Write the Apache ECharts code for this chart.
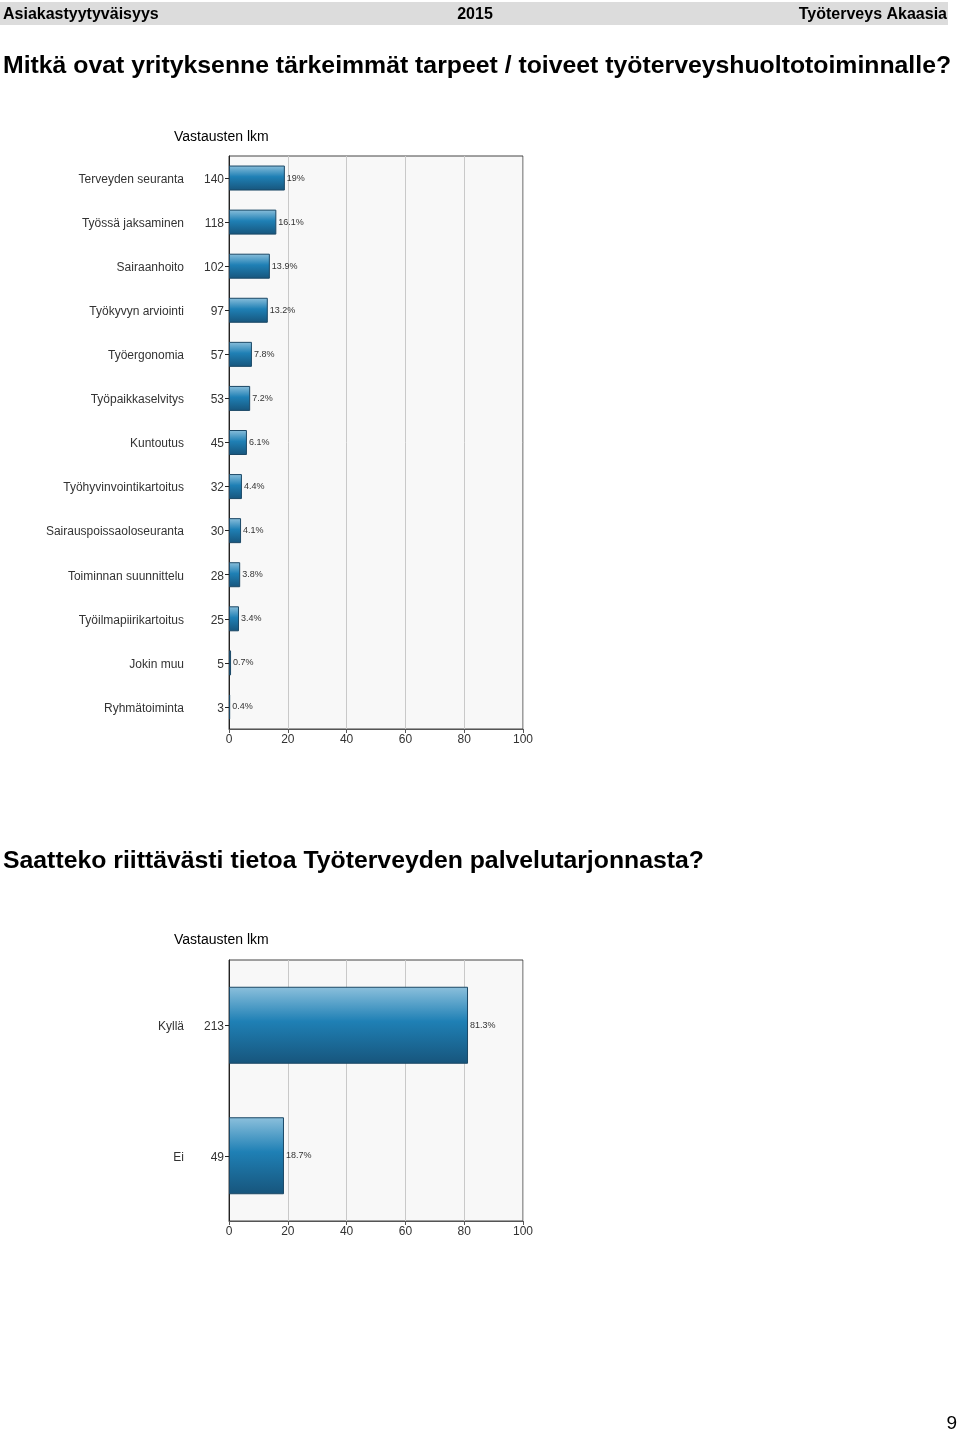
<!DOCTYPE html>
<html><head><meta charset="utf-8">
<script src="https://cdn.jsdelivr.net/npm/echarts@6/dist/echarts.min.js"></script>
<style>html,body{margin:0;padding:0;background:#fff}#c{width:960px;height:1433px}</style>
</head><body><div id="c"></div>
<script>
const categories1 = ["Terveyden seuranta","Työssä jaksaminen","Sairaanhoito","Työkyvyn arviointi","Työergonomia","Työpaikkaselvitys","Kuntoutus","Työhyvinvointikartoitus","Sairauspoissaoloseuranta","Toiminnan suunnittelu","Työilmapiirikartoitus","Jokin muu","Ryhmätoiminta"];
const counts1 = [140,118,102,97,57,53,45,32,30,28,25,5,3];
const percents1 = [19,16.1,13.9,13.2,7.8,7.2,6.1,4.4,4.1,3.8,3.4,0.7,0.4];
const categories2 = ["Kyllä","Ei"];
const counts2 = [213,49];
const percents2 = [81.3,18.7];
const xTicks = [0,20,40,60,80,100];

const FONT = "Liberation Sans, Arial, sans-serif";
const barGradient = new echarts.graphic.LinearGradient(0,0,0,1,[
  {offset:0,color:'#8cc0dc'},
  {offset:0.45,color:'#1f80b5'},
  {offset:1,color:'#17557c'}
]);

function xAxisFor(gi){
  return {
    gridIndex: gi, type:'value', min: xTicks[0], max: xTicks[xTicks.length-1], interval: 20,
    axisLine:{show:true,lineStyle:{color:'#555',width:1}},
    axisTick:{show:true,length:4,lineStyle:{color:'#555'}},
    axisLabel:{color:'#333',fontSize:12,fontFamily:FONT,margin:5},
    splitLine:{show:true,lineStyle:{color:'#c9c9c9',width:1}}
  };
}
function yAxisFor(gi, cats, counts){
  return {
    gridIndex: gi, type:'category', inverse:true, data: cats,
    axisLine:{show:true,lineStyle:{color:'#222',width:1}},
    axisTick:{show:true,alignWithLabel:true,length:4,lineStyle:{color:'#222'}},
    axisLabel:{margin:5,fontFamily:FONT,padding:[3,0,0,0],
      formatter:(v,i)=>`{n|${v}}{c|${counts[i]}}`,
      rich:{
        n:{fontSize:12,color:'#333',fontFamily:FONT,align:'right'},
        c:{fontSize:12,color:'#333',fontFamily:FONT,width:40,align:'right'}
      }}
  };
}
function seriesFor(gi, pcts, bw){
  return {
    type:'bar', xAxisIndex:gi, yAxisIndex:gi, data:pcts, barWidth:bw,
    itemStyle:{color:barGradient,borderColor:'#1b4866',borderWidth:1},
    label:{show:true,position:'right',distance:2,color:'#333',fontSize:9,fontFamily:FONT,
      formatter:p=>p.value+'%'},
    silent:true, animation:false
  };
}

const chart = echarts.init(document.getElementById('c'),null,{renderer:'canvas'});
chart.setOption({
  animation:false,
  backgroundColor:'#fff',
  grid:[
    {left:229,top:156,width:294,height:573,show:true,backgroundColor:'#f8f8f8',borderColor:'#444',borderWidth:1},
    {left:229,top:960,width:294,height:261,show:true,backgroundColor:'#f8f8f8',borderColor:'#444',borderWidth:1}
  ],
  xAxis:[xAxisFor(0),xAxisFor(1)],
  yAxis:[yAxisFor(0,categories1,counts1),yAxisFor(1,categories2,counts2)],
  series:[seriesFor(0,percents1,25),seriesFor(1,percents2,77)],
  graphic:[
    {type:'rect',shape:{x:0,y:2,width:948,height:23},style:{fill:'#dcdcdc'}},
    {type:'text',x:3,y:7,style:{text:'Asiakastyytyväisyys',font:'bold 16px '+FONT,fill:'#000'}},
    {type:'text',x:475,y:7,style:{text:'2015',font:'bold 16px '+FONT,fill:'#000',align:'center'}},
    {type:'text',x:947,y:7,style:{text:'Työterveys Akaasia',font:'bold 16px '+FONT,fill:'#000',align:'right'}},
    {type:'text',x:3,y:54,style:{text:'Mitkä ovat yrityksenne tärkeimmät tarpeet / toiveet työterveyshuoltotoiminnalle?',font:'bold 24.8px '+FONT,fill:'#000'}},
    {type:'text',x:174,y:130,style:{text:'Vastausten lkm',font:'14px '+FONT,fill:'#000'}},
    {type:'text',x:3,y:849,style:{text:'Saatteko riittävästi tietoa Työterveyden palvelutarjonnasta?',font:'bold 24.8px '+FONT,fill:'#000'}},
    {type:'text',x:174,y:933,style:{text:'Vastausten lkm',font:'14px '+FONT,fill:'#000'}},
    {type:'text',x:957,y:1414,style:{text:'9',font:'19px '+FONT,fill:'#000',align:'right'}}
  ]
});
</script></body></html>
